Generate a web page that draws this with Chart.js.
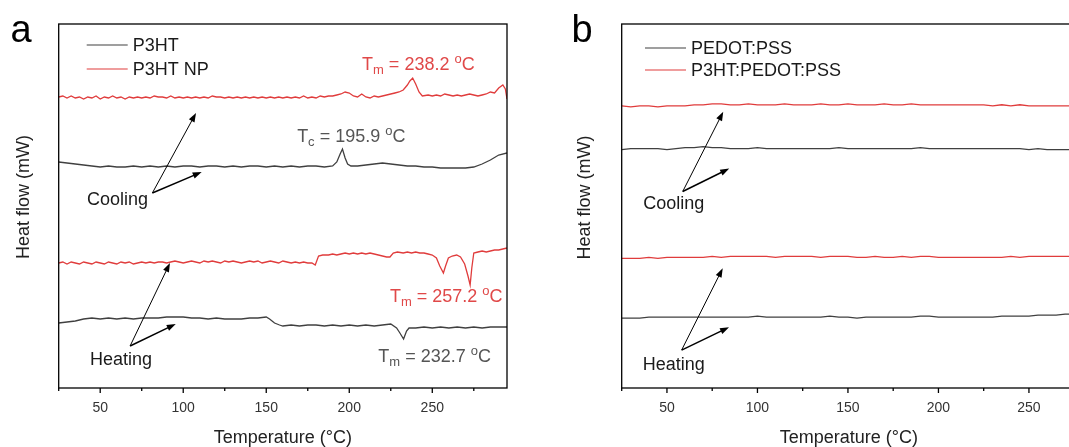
<!DOCTYPE html>
<html>
<head>
<meta charset="utf-8">
<script src="https://cdn.jsdelivr.net/npm/chart.js@4/dist/chart.umd.min.js"></script>
<style>
  html, body { margin: 0; padding: 0; background: #fff; overflow: hidden; }
  #wrap { position: relative; width: 1069px; height: 447px; overflow: hidden; }
  .panel { position: absolute; top: 0; height: 447px; }
  #pa { left: 0; width: 530px; }
  #pb { left: 540px; width: 560px; }
</style>
</head>
<body>
<div id="wrap">
  <div class="panel" id="pa"><canvas id="chartA"></canvas></div>
  <div class="panel" id="pb"><canvas id="chartB"></canvas></div>
</div>
<script>
/* DSC curves, heat flow in mW (offset traces), temperature in degC */

// panel a: P3HT cooling (black)
var aBlackCoolT = [25,30,35,40,45,50,55,60,65,70,
  75,80,85,90,95,100,105,110,115,120,
  125,130,135,140,145,150,155,160,165,170,
  175,180,185,190,192.5,194.5,195.9,197.5,199,201,
  205,210,215,220,225,230,235,240,245,250,
  255,260,265,270,275,280,285,290,295];
var aBlackCool = [2.26,2.25,2.24,2.23,2.22,2.21,2.22,2.21,2.21,2.22,
  2.21,2.22,2.21,2.22,2.21,2.22,2.22,2.21,2.22,2.22,
  2.21,2.22,2.21,2.22,2.22,2.21,2.22,2.21,2.22,2.21,
  2.22,2.22,2.21,2.22,2.26,2.34,2.39,2.30,2.24,2.22,
  2.22,2.23,2.24,2.25,2.24,2.23,2.22,2.22,2.21,2.21,
  2.20,2.20,2.20,2.20,2.21,2.24,2.28,2.33,2.35];

// panel a: P3HT NP cooling (red)
var aRedCoolT = [25,27.5,30,32.5,35,37.5,40,42.5,45,47.5,
  50,52.5,55,57.5,60,62.5,65,67.5,70,72.5,
  75,77.5,80,82.5,85,87.5,90,92.5,95,97.5,
  100,102.5,105,107.5,110,112.5,115,117.5,120,122.5,
  125,127.5,130,132.5,135,137.5,140,142.5,145,147.5,
  150,152.5,155,157.5,160,162.5,165,167.5,170,172.5,
  175,177.5,180,182.5,185,187.5,190,192.5,195,197.5,
  200,202.5,205,207.5,210,212.5,215,217.5,220,222.5,
  225,227.5,230,232.5,235,236.5,238.2,240,242,244,
  247.5,250,252.5,255,257.5,260,262.5,265,267.5,270,
  272.5,275,277.5,280,282.5,285,287.5,290,292.5,294,
  295];
var aRedCool = [2.91,2.92,2.90,2.92,2.90,2.91,2.89,2.91,2.90,2.92,
  2.89,2.91,2.90,2.92,2.90,2.91,2.89,2.91,2.90,2.91,
  2.90,2.91,2.90,2.92,2.91,2.91,2.90,2.92,2.90,2.91,
  2.90,2.91,2.90,2.91,2.90,2.91,2.90,2.92,2.91,2.91,
  2.90,2.91,2.90,2.91,2.90,2.91,2.90,2.91,2.90,2.91,
  2.90,2.91,2.90,2.91,2.90,2.91,2.90,2.91,2.90,2.92,
  2.90,2.91,2.90,2.92,2.91,2.92,2.92,2.93,2.94,2.96,
  2.95,2.92,2.91,2.94,2.91,2.90,2.92,2.91,2.92,2.93,
  2.94,2.95,2.96,2.98,3.03,3.07,3.10,3.04,2.96,2.92,
  2.93,2.92,2.93,2.92,2.94,2.93,2.92,2.93,2.92,2.93,
  2.94,2.93,2.92,2.93,2.94,2.96,2.95,3.00,3.03,2.99,
  2.89];

// panel a: P3HT NP heating (red)
var aRedHeatT = [25,27.5,30,32.5,35,37.5,40,42.5,45,47.5,
  50,52.5,55,57.5,60,62.5,65,67.5,70,72.5,
  75,77.5,80,82.5,85,87.5,90,92.5,95,97.5,
  100,102.5,105,107.5,110,112.5,115,117.5,120,122.5,
  125,127.5,130,132.5,135,137.5,140,142.5,145,147.5,
  150,152.5,155,157.5,160,162.5,165,167.5,170,172.5,
  175,177.5,179.5,181.5,184,187.5,190,192.5,195,197.5,
  200,202.5,205,207.5,210,212.5,215,217.5,220,222.5,
  224.5,226.5,229,232.5,235,237.5,240,242.5,245,247.5,
  250,252.5,254.5,256.7,258,259.7,262,264.7,267,269.5,
  271.5,272.8,273.8,275,277.5,280,282.5,285,287.5,290,
  292.5,295];
var aRedHeat = [1.25,1.26,1.24,1.26,1.25,1.24,1.26,1.25,1.24,1.26,
  1.25,1.24,1.26,1.25,1.24,1.26,1.25,1.26,1.24,1.25,
  1.26,1.25,1.26,1.25,1.26,1.26,1.25,1.26,1.27,1.26,
  1.25,1.26,1.27,1.26,1.25,1.27,1.26,1.27,1.26,1.25,
  1.27,1.26,1.27,1.26,1.25,1.26,1.27,1.26,1.27,1.25,
  1.26,1.27,1.26,1.25,1.27,1.26,1.25,1.26,1.25,1.26,
  1.25,1.25,1.23,1.32,1.33,1.33,1.34,1.33,1.34,1.35,
  1.34,1.35,1.34,1.35,1.34,1.35,1.34,1.33,1.32,1.31,
  1.31,1.35,1.36,1.35,1.36,1.35,1.36,1.35,1.35,1.34,
  1.33,1.30,1.22,1.15,1.22,1.30,1.32,1.33,1.31,1.24,
  1.12,1.03,1.20,1.35,1.36,1.37,1.36,1.37,1.38,1.38,
  1.39,1.40];

// panel a: P3HT heating (black)
var aBlackHeatT = [25,30,35,40,45,50,55,60,65,70,
  75,80,85,90,95,100,105,110,115,120,
  125,130,135,140,145,150,152,155,158,160,
  165,170,175,180,185,190,195,200,205,210,
  215,220,225,228.5,230.5,232.7,234.5,236,240,245,
  250,255,260,265,270,275,280,285,290,295];
var aBlackHeat = [0.65,0.66,0.67,0.69,0.70,0.69,0.70,0.69,0.70,0.69,
  0.70,0.70,0.70,0.71,0.71,0.71,0.70,0.70,0.69,0.70,
  0.69,0.69,0.69,0.70,0.70,0.71,0.69,0.65,0.63,0.62,
  0.63,0.62,0.63,0.63,0.62,0.63,0.62,0.63,0.62,0.63,
  0.62,0.63,0.64,0.60,0.55,0.49,0.57,0.60,0.60,0.61,
  0.60,0.61,0.60,0.61,0.60,0.61,0.60,0.61,0.61,0.61];

// panel b: shared temperature grid
var bTemps = [25,30,35,40,45,50,55,60,65,70,
  75,80,85,90,95,100,105,110,115,120,
  125,130,135,140,145,150,155,160,165,170,
  175,180,185,190,195,200,205,210,215,220,
  225,230,235,240,245,250,255,260,265,270,
  275,280];
var bRedCool = [2.83,2.82,2.83,2.83,2.82,2.83,2.83,2.83,2.84,2.84,
  2.85,2.85,2.84,2.84,2.85,2.84,2.84,2.84,2.85,2.84,
  2.84,2.84,2.85,2.84,2.84,2.85,2.84,2.84,2.84,2.85,
  2.84,2.84,2.85,2.84,2.84,2.84,2.84,2.84,2.84,2.84,
  2.84,2.83,2.84,2.83,2.84,2.83,2.83,2.83,2.83,2.83,
  2.83,2.83];
var bBlackCool = [2.39,2.40,2.40,2.40,2.40,2.39,2.40,2.41,2.41,2.42,
  2.41,2.41,2.40,2.40,2.40,2.41,2.40,2.40,2.40,2.40,
  2.40,2.40,2.40,2.40,2.41,2.40,2.40,2.40,2.40,2.40,
  2.40,2.40,2.40,2.41,2.40,2.40,2.40,2.40,2.40,2.40,
  2.40,2.40,2.40,2.40,2.40,2.39,2.40,2.39,2.39,2.39,
  2.39,2.39];
var bRedHeat = [1.30,1.30,1.30,1.31,1.30,1.31,1.31,1.31,1.31,1.31,
  1.32,1.31,1.32,1.32,1.32,1.32,1.32,1.31,1.32,1.32,
  1.32,1.32,1.31,1.32,1.32,1.32,1.31,1.31,1.32,1.31,
  1.31,1.32,1.31,1.32,1.32,1.31,1.31,1.31,1.31,1.31,
  1.31,1.31,1.31,1.32,1.31,1.32,1.32,1.32,1.32,1.32,
  1.32,1.32];
var bBlackHeat = [0.70,0.70,0.70,0.71,0.71,0.71,0.71,0.71,0.71,0.71,
  0.71,0.71,0.71,0.71,0.71,0.72,0.71,0.71,0.71,0.71,
  0.71,0.71,0.71,0.72,0.71,0.71,0.70,0.71,0.71,0.71,
  0.71,0.71,0.71,0.72,0.72,0.71,0.71,0.71,0.71,0.71,
  0.71,0.71,0.72,0.72,0.72,0.72,0.73,0.73,0.73,0.74,
  0.74,0.74];

// axis ticks (every 25, labelled every 50)
var aTicks = [25,50,75,100,125,150,175,200,225,250,275];
var bTicks = [25,50,75,100,125,150,175,200,225,250,275];

var legendA = ['P3HT', 'P3HT NP'];
var legendB = ['PEDOT:PSS', 'P3HT:PEDOT:PSS'];

var FONT = "'Liberation Sans', Arial, Helvetica, sans-serif";
var BLACK = '#404040';
var RED = '#e03c3c';
var RED_TXT = '#e04848';
var GRAY_TXT = '#555555';
var INK = '#1a1a1a';

// text notes and arrows, in data coordinates
var notesA = [
  { text: 'T_m = 238.2 ^oC', x: 207.7, y: 3.18, color: RED_TXT },
  { text: 'T_c = 195.9 ^oC', x: 168.6, y: 2.46, color: GRAY_TXT },
  { text: 'Cooling', x: 42.1, y: 1.83, color: INK },
  { text: 'T_m = 257.2 ^oC', x: 224.5, y: 0.86, color: RED_TXT },
  { text: 'Heating', x: 43.9, y: 0.23, color: INK },
  { text: 'T_m = 232.7 ^oC', x: 217.5, y: 0.26, color: GRAY_TXT }
];
var arrowsA = [[81.4, 1.95, 107.7, 2.75], [81.4, 1.95, 111.1, 2.16],
  [68, 0.42, 92, 1.25], [68, 0.42, 95.5, 0.64]];
var notesB = [
  { text: 'Cooling', x: 36.9, y: 1.79, color: INK },
  { text: 'Heating', x: 36.6, y: 0.18, color: INK }
];
var arrowsB = [[58.7, 1.97, 81.1, 2.77], [58.7, 1.97, 84.4, 2.20],
  [58.1, 0.38, 80.8, 1.20], [58.1, 0.38, 84.3, 0.61]];

function series(label, temps, vals, color) {
  return {
    label: label,
    data: temps.map(function (t, i) { return { x: t, y: vals[i] }; }),
    borderColor: color,
    borderWidth: 1.3,
    pointRadius: 0,
    fill: false,
    tension: 0
  };
}

/* rich text: '_' subscripts and '^' superscripts the next character */
function richText(ctx, x, y, str, size, color) {
  var segs = [], cur = '';
  for (var i = 0; i < str.length; i++) {
    var ch = str[i];
    if ((ch === '_' || ch === '^') && i + 1 < str.length) {
      if (cur) segs.push({ t: cur, k: 0 });
      cur = '';
      segs.push({ t: str[i + 1], k: ch === '_' ? 1 : -1 });
      i++;
    } else {
      cur += ch;
    }
  }
  if (cur) segs.push({ t: cur, k: 0 });
  ctx.fillStyle = color;
  ctx.textAlign = 'left';
  ctx.textBaseline = 'alphabetic';
  var cx = x;
  segs.forEach(function (s) {
    var fs = s.k ? Math.round(size * 0.72) : size;
    var dy = s.k === 1 ? size * 0.22 : (s.k === -1 ? -size * 0.39 : 0);
    ctx.font = fs + 'px ' + FONT;
    ctx.fillText(s.t, cx, y + dy);
    cx += ctx.measureText(s.t).width;
  });
}

function arrow(ctx, x0, y0, x1, y1, lw) {
  var a = Math.atan2(y1 - y0, x1 - x0), L = 9, W = 3.2;
  var c = Math.cos(a), s = Math.sin(a);
  ctx.strokeStyle = '#000';
  ctx.fillStyle = '#000';
  ctx.lineWidth = lw;
  ctx.beginPath();
  ctx.moveTo(x0, y0);
  ctx.lineTo(x1 - L * 0.8 * c, y1 - L * 0.8 * s);
  ctx.stroke();
  ctx.beginPath();
  ctx.moveTo(x1, y1);
  ctx.lineTo(x1 - L * c + W * s, y1 - L * s - W * c);
  ctx.lineTo(x1 - L * c - W * s, y1 - L * s + W * c);
  ctx.closePath();
  ctx.fill();
}

var decor = {
  id: 'decor',
  afterDraw: function (chart, args, o) {
    var ctx = chart.ctx, area = chart.chartArea;
    var xs = chart.scales.x, ys = chart.scales.y;
    ctx.save();

    // frame
    ctx.strokeStyle = '#000';
    ctx.lineWidth = 1.3;
    ctx.strokeRect(area.left, area.top, area.right - area.left, area.bottom - area.top);

    // bottom ticks, major longer than minor
    o.ticks.forEach(function (v) {
      var px = xs.getPixelForValue(v), len = v % 50 === 0 ? 5 : 3;
      ctx.beginPath();
      ctx.moveTo(px, area.bottom);
      ctx.lineTo(px, area.bottom + len);
      ctx.stroke();
    });

    // y title
    ctx.save();
    ctx.translate(o.yTitle[0], o.yTitle[1]);
    ctx.rotate(-Math.PI / 2);
    ctx.font = '18px ' + FONT;
    ctx.fillStyle = '#222';
    ctx.textAlign = 'center';
    ctx.textBaseline = 'middle';
    ctx.fillText('Heat flow (mW)', 0, 0);
    ctx.restore();

    // panel letter
    ctx.font = '38px ' + FONT;
    ctx.fillStyle = '#000';
    ctx.textAlign = 'left';
    ctx.textBaseline = 'alphabetic';
    ctx.fillText(o.letter[0], o.letter[1], o.letter[2]);

    // legend
    var lg = o.legend;
    lg.labels.forEach(function (lab, i) {
      var y = area.top + lg.y[i], x = area.left + lg.x;
      ctx.strokeStyle = lg.colors[i];
      ctx.lineWidth = 1.2;
      ctx.beginPath();
      ctx.moveTo(x, y);
      ctx.lineTo(x + 41, y);
      ctx.stroke();
      ctx.font = '18px ' + FONT;
      ctx.fillStyle = INK;
      ctx.textBaseline = 'middle';
      ctx.fillText(lab, x + 46, y + 1);
    });

    // notes
    o.notes.forEach(function (n) {
      richText(ctx, xs.getPixelForValue(n.x), ys.getPixelForValue(n.y), n.text, 18, n.color);
    });

    // arrows
    o.arrows.forEach(function (a, i) {
      arrow(ctx, xs.getPixelForValue(a[0]), ys.getPixelForValue(a[1]),
        xs.getPixelForValue(a[2]), ys.getPixelForValue(a[3]), i % 2 ? 1.5 : 1);
    });

    ctx.restore();
  }
};

function makeChart(id, datasets, xMin, xMax, yMax, ticks, pad, deco) {
  return new Chart(document.getElementById(id), {
    type: 'line',
    data: { datasets: datasets },
    options: {
      responsive: true,
      maintainAspectRatio: false,
      animation: false,
      layout: { padding: pad },
      plugins: { legend: { display: false }, tooltip: { enabled: false }, decor: deco },
      scales: {
        x: {
          type: 'linear',
          min: xMin,
          max: xMax,
          afterBuildTicks: function (s) { s.ticks = ticks.map(function (v) { return { value: v }; }); },
          afterFit: function (s) { s.height = 59; },
          ticks: {
            autoSkip: false,
            maxRotation: 0,
            padding: 7,
            color: '#333',
            font: { family: FONT, size: 14 },
            callback: function (v) { return v % 50 === 0 ? String(v) : ''; }
          },
          grid: { display: true, drawOnChartArea: false, drawTicks: true, tickLength: 5, tickColor: 'rgba(0,0,0,0)' },
          border: { display: false },
          title: { display: true, text: 'Temperature (°C)', color: '#222', font: { family: FONT, size: 18 }, padding: { top: 0, bottom: -2 } }
        },
        y: { type: 'linear', display: false, min: 0, max: yMax }
      }
    },
    plugins: [decor]
  });
}

makeChart('chartA', [
  series('P3HT', aBlackCoolT, aBlackCool, BLACK),
  series('P3HT NP', aRedCoolT, aRedCool, RED),
  series('P3HT', aBlackHeatT, aBlackHeat, BLACK),
  series('P3HT NP', aRedHeatT, aRedHeat, RED)
], 25, 295, 3.64, aTicks, { left: 58.7, right: 23, top: 24, bottom: 0 }, {
  ticks: aTicks,
  yTitle: [24.5, 197],
  letter: ['a', 10.5, 41.7],
  legend: { labels: legendA, colors: [BLACK, RED], x: 28, y: [21, 45] },
  notes: notesA,
  arrows: arrowsA
});

makeChart('chartB', [
  series('PEDOT:PSS', bTemps, bBlackCool, BLACK),
  series('P3HT:PEDOT:PSS', bTemps, bRedCool, RED),
  series('PEDOT:PSS', bTemps, bBlackHeat, BLACK),
  series('P3HT:PEDOT:PSS', bTemps, bRedHeat, RED)
], 25, 276, 3.65, bTicks, { left: 81.7, right: 24, top: 24, bottom: 0 }, {
  ticks: bTicks,
  yTitle: [45, 197.5],
  letter: ['b', 31.5, 41.7],
  legend: { labels: legendB, colors: [BLACK, RED], x: 23.3, y: [24, 46] },
  notes: notesB,
  arrows: arrowsB
});
</script>
</body>
</html>
